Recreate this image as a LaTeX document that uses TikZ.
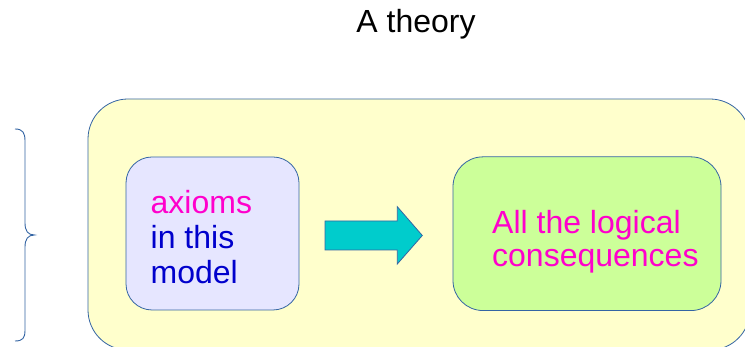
\documentclass[tikz,border=0pt]{standalone}
\usepackage{fontspec}
\setmainfont{Liberation Sans}
\definecolor{edge}{HTML}{3465A4}
\definecolor{outerfill}{HTML}{FFFFCC}
\definecolor{leftfill}{HTML}{E6E6FF}
\definecolor{rightfill}{HTML}{CCFF99}
\definecolor{arrowfill}{HTML}{00CCCC}
\definecolor{mag}{HTML}{FF00CC}
\definecolor{navy}{HTML}{0000CC}
\tikzset{
  panel/.style={draw=edge, line width=0.8pt, inner sep=0pt},
  label32/.style={inner sep=0pt, font=\fontsize{32}{35}\selectfont, align=left},
}
\begin{document}
\begin{tikzpicture}[x=1pt,y=1pt]
\useasboundingbox (0,0) rectangle (745,347);
\clip (0,0) rectangle (745,347);
\fill[white] (0,0) rectangle (745,347);
% outer theory box
\node[panel, fill=outerfill, rounded corners=40pt, minimum width=662pt, minimum height=251pt] (outer) at (419,122.5) {};
% inner boxes
\node[panel, fill=leftfill, rounded corners=26pt, minimum width=173pt, minimum height=153pt] (axbox) at (212.5,113.5) {};
\node[panel, fill=rightfill, rounded corners=30pt, minimum width=268pt, minimum height=153.7pt] (conbox) at (587,113.3) {};
% texts
\node[label32, anchor=base] (title) at (416,314.7) {A theory};
\node[label32, anchor=base west] (axtext) at (150.5,63) {\textcolor{mag}{axioms}\\\textcolor{navy}{in this}\\\textcolor{navy}{model}};
\node[label32, anchor=base west, font=\fontsize{32}{33.4}\selectfont, text=mag] (context) at (492,80.3) {All the logical\\consequences};
% block arrow
\draw[draw=edge, line width=0.8pt, fill=arrowfill, line join=miter]
  (325,126) -- (397.3,126) -- (397.3,140.3) -- (422.3,111.5) -- (397.3,83) -- (397.3,97) -- (325,97) -- cycle;
% brace
\draw[edge, line width=0.9pt]
  (15,218) .. controls (23,218) and (25,214) .. (25,206) -- (25,124)
  .. controls (25,116) and (28,112) .. (34.5,112)
  .. controls (28,112) and (25,108) .. (25,100) -- (25,17)
  .. controls (25,9) and (23,6) .. (15,6);
\end{tikzpicture}
\end{document}
